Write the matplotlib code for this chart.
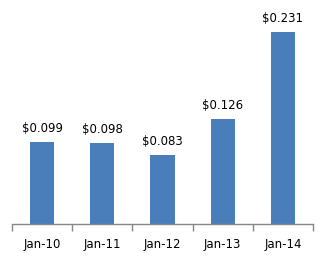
import matplotlib
matplotlib.use("Agg")
import matplotlib.pyplot as plt
import numpy as np

categories = ["Jan-10", "Jan-11", "Jan-12", "Jan-13", "Jan-14"]
values = [0.099, 0.098, 0.083, 0.126, 0.231]
labels = ["$0.099", "$0.098", "$0.083", "$0.126", "$0.231"]

fig = plt.figure(figsize=(3.29, 2.61), dpi=100)
ax = fig.add_axes([12/329, 37/261, 301/329, 224/261])
x = np.arange(len(categories))
bars = ax.bar(x, values, width=0.4, color="#4a7ebb", zorder=2)
for xi, v, lab in zip(x, values, labels):
    ax.text(xi, v + 0.0085, lab, ha="center", va="bottom", fontsize=8.5, color="black")
ax.set_xlim(-0.5, len(categories) - 0.5)
ax.set_ylim(0, 0.27)
ax.set_yticks([])
ax.set_xticks(x)
ax.set_xticklabels(categories, fontsize=8.5)
ax.tick_params(axis="x", length=0, pad=10)
ax.set_xticks(np.arange(-0.5, len(categories)), minor=True)
ax.tick_params(axis="x", which="minor", length=5, color="#868686", width=1)
for s in ["top", "right", "left"]:
    ax.spines[s].set_visible(False)
ax.spines["bottom"].set_color("#868686")
ax.spines["bottom"].set_linewidth(1)
fig.savefig("out.png", dpi=100)
